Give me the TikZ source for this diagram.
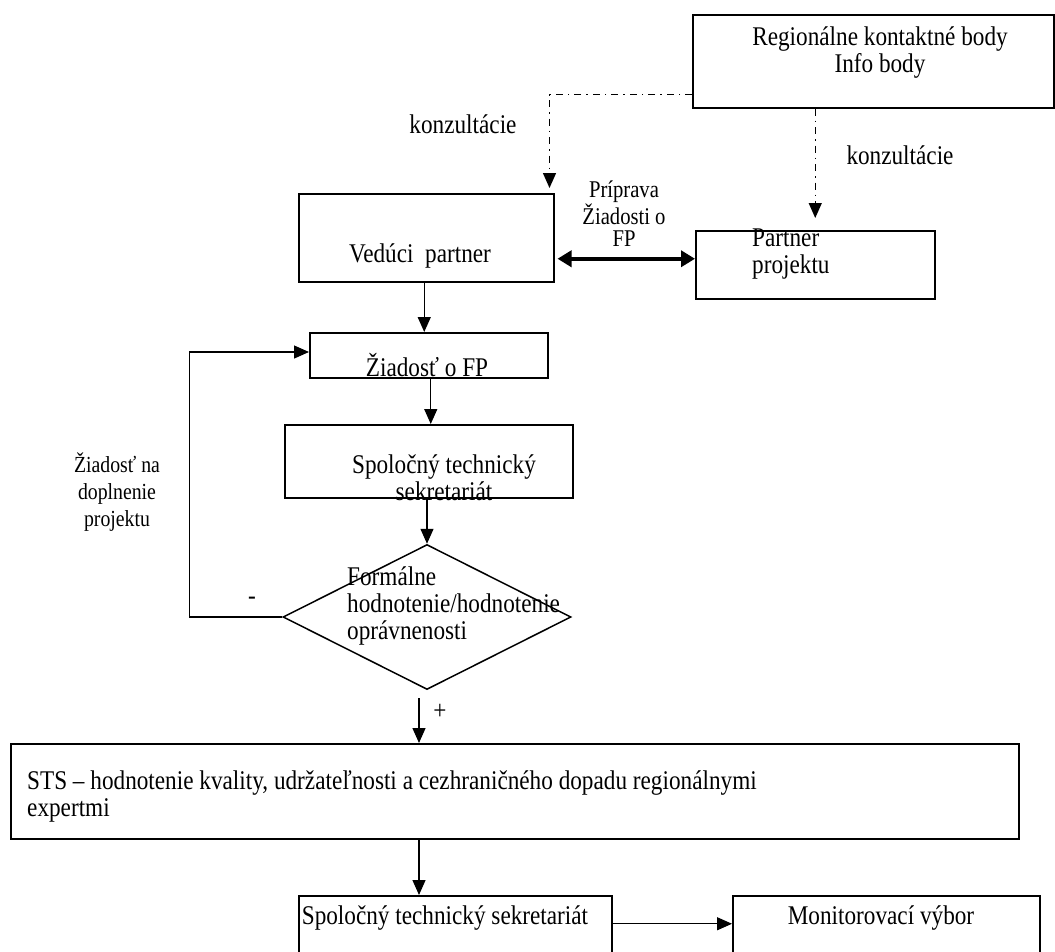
\documentclass[tikz,border=0pt]{standalone}
\usepackage{fontspec}
\setmainfont[FakeStretch=0.86]{Liberation Serif}
\usetikzlibrary{arrows.meta,shapes.geometric,calc}

\begin{document}
\begin{tikzpicture}[x=1pt,y=-1pt,
  box/.style={draw, line width=1.5pt, rectangle, inner sep=0pt, anchor=north west},
  lbl/.style={inner sep=0pt, font=\fontsize{27}{27}\selectfont},
  small/.style={inner sep=0pt, font=\fontsize{24}{22}\selectfont},
  side/.style={inner sep=0pt, font=\fontsize{23}{27}\selectfont},
  arr/.style={line width=1.3pt, -{Triangle[length=15pt,width=13pt]}},
  dd/.style={line width=1.3pt, dash pattern=on 7pt off 5pt on 1.5pt off 5pt, -{Triangle[length=15pt,width=13pt]}},
  bothway/.style={line width=4pt, {Triangle[length=14pt,width=16pt]}-{Triangle[length=14pt,width=16pt]}}
]
\useasboundingbox (0,0) rectangle (1055,951);
\clip (0,0) rectangle (1055,951);

% boxes
\node[box, minimum width=361pt, minimum height=93pt] (rkb) at (692,14) {};
\node[box, minimum width=255pt, minimum height=88pt] (vp) at (298,193) {};
\node[box, minimum width=239pt, minimum height=68pt] (pp) at (695,230) {};
\node[box, minimum width=238pt, minimum height=45pt] (zf) at (309,332) {};
\node[box, minimum width=288pt, minimum height=73pt] (sts1) at (284,424) {};
\node[draw, line width=1.5pt, shape=diamond, inner sep=0pt,
      minimum width=288pt, minimum height=145pt] (dia) at (427,617) {};
\node[box, minimum width=1008pt, minimum height=95pt] (big) at (10,743) {};
\node[box, minimum width=313pt, minimum height=70pt] (sts2) at (298,895) {};
\node[box, minimum width=307pt, minimum height=70pt] (mv) at (732,895) {};

% texts
\node[lbl, align=center] (trkb) at (880,53) {Regionálne kontaktné body\\Info body};
\node[lbl] (tk1) at (463,124) {konzultácie};
\node[lbl] (tk2) at (900,155) {konzultácie};
\node[lbl] (tvp) at (420,256) {Vedúci\ \ partner};
\node[small, align=center] (tpr) at (624,214) {Príprava\\Žiadosti o\\FP};
\node[lbl, align=left, anchor=west] (tpp) at (752,254.5) {Partner\\projektu};
\node[lbl] (tzf) at (427,365) {Žiadosť o FP};
\node[side, align=center] (tdop) at (117,492) {Žiadosť na\\doplnenie\\projektu};
\node[lbl, align=center] (tsts1) at (444,478) {Spoločný technický\\sekretariát};
\node[lbl, align=left, anchor=west] (tdia) at (347,606) {Formálne\\hodnotenie/hodnotenie\\oprávnenosti};
\node[lbl] (tminus) at (252,601) {-};
\node[lbl] (tplus) at (440,712) {+};
\node[lbl, align=left, anchor=west] (tbig) at (27,796) {STS – hodnotenie kvality, udržateľnosti a cezhraničného dopadu regionálnymi\\expertmi};
\node[lbl] (tsts2) at (445,918) {Spoločný technický sekretariát};
\node[lbl] (tmv) at (881,918) {Monitorovací výbor};

% consultation links
\draw[dd] ([yshift=14pt]rkb.south west) -| ([shift={(-5,-5)}]vp.north east);
\draw[dd] (rkb.south -| pp.north) -- ([yshift=12pt]pp.north);

% preparation of the application
\coordinate (dbl) at ([shift={(3,21)}]vp.east);
\draw[bothway] (dbl) -- (dbl -| pp.west);

% main flow
\draw[arr] ([xshift=-2pt]vp.south) -- ([xshift=-2pt]vp.south |- zf.north);
\draw[arr] ([xshift=2pt]zf.south) -- ([xshift=2pt]zf.south |- sts1.north);
\draw[arr] (sts1.south -| dia.north) -- (dia.north);
\draw[arr] (dia.west) -- ++(-93,0) |- ([yshift=-20pt]zf.north west);
\coordinate (axis) at ([xshift=-8pt]dia.south);
\draw[arr] ([yshift=-8pt]axis) -- (axis |- big.north);
\draw[arr] (axis |- big.south) -- (axis |- sts2.north);
\draw[arr] ([yshift=7pt]sts2.east) -- ([yshift=7pt]sts2.east -| mv.west);
\end{tikzpicture}
\end{document}
